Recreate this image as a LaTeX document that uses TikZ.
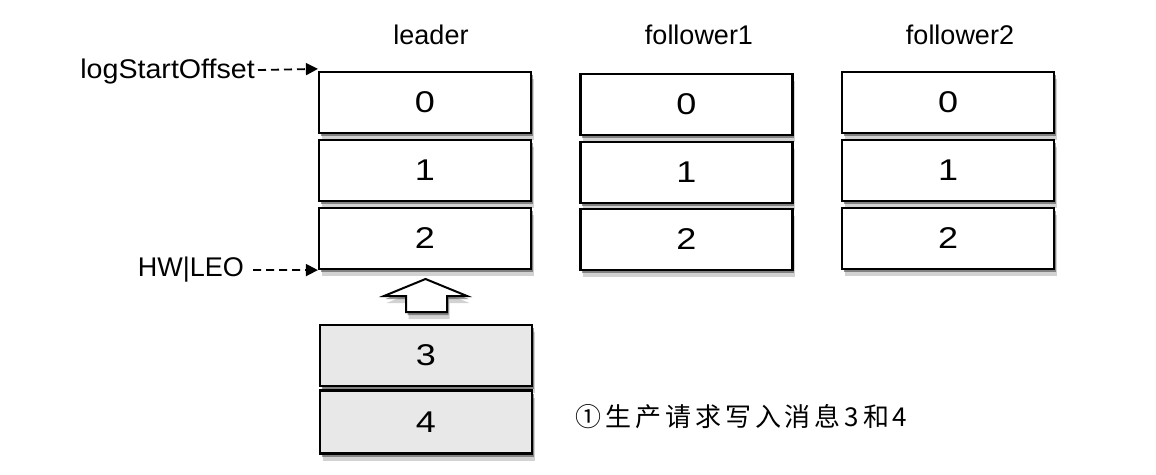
\documentclass[tikz,border=0pt]{standalone}
\usepackage{fontspec}
\setmainfont{Liberation Sans}
\newfontfamily\cjk[LetterSpace=15]{Noto Sans CJK SC}
\usetikzlibrary{shadows,arrows.meta}
\newcommand\wdig[1]{\scalebox{1.2}[1]{#1}}
\tikzset{
  shA/.style={drop shadow={shadow xshift=1.5pt, shadow yshift=-3pt, opacity=.55, fill=black!75}},
  shB/.style={drop shadow={shadow xshift=2.5pt, shadow yshift=-7pt, opacity=.25, fill=black!70}},
  cell/.style={draw, line width=2.2pt, minimum width=212pt, minimum height=61pt, inner sep=0pt,
    fill=white, font=\fontsize{30}{32}\selectfont, shB, shA},
  newcell/.style={cell, fill=black!9},
  lbl/.style={font=\fontsize{27}{30}\selectfont, inner sep=0pt},
  ptr/.style={line width=1.8pt, dash pattern=on 8pt off 5pt, -{Triangle[length=12pt,width=12pt]}},
  upar/.style={draw, line width=2pt, fill=white, line join=miter, shB, shA},
}
\begin{document}
\begin{tikzpicture}[x=1pt,y=-1pt]
\useasboundingbox (0,0) rectangle (1156,474);
% column labels
\node[lbl] (tl) at (431,35) {leader};
\node[lbl] (tf1) at (699,35) {follower1};
\node[lbl] (tf2) at (960,35) {follower2};
% leader
\node[cell] (L0) at (425,102.5) {\wdig{0}};
\node[cell] (L1) at (425,170.5) {\wdig{1}};
\node[cell] (L2) at (425,238.5) {\wdig{2}};
% follower1
\node[cell] (A0) at (686.5,104.5) {\wdig{0}};
\node[cell] (A1) at (686.5,172.5) {\wdig{1}};
\node[cell] (A2) at (686.5,239.5) {\wdig{2}};
% follower2
\node[cell] (B0) at (948,102.5) {\wdig{0}};
\node[cell] (B1) at (948,170.5) {\wdig{1}};
\node[cell] (B2) at (948,238.5) {\wdig{2}};
% new messages
\node[newcell] (N3) at (426,355.5) {\wdig{3}};
\node[newcell, minimum height=63pt] (N4) at (426,422) {\wdig{4}};
% pointers
\node[lbl, anchor=east] (lso) at (255,72) {\scalebox{1.06}[1]{logStartOffset}};
\node[lbl, anchor=east] (hw) at (244,270) {HW|LEO};
\draw[ptr] ([xshift=3pt,yshift=2pt]lso.east) -- ([yshift=2pt]L0.north west);
\draw[ptr] ([xshift=9pt]hw.east) -- (L2.south west);
% up arrow
\path[upar] (384,296) -- (425.5,279) -- (467,296) -- (447,296) -- (447,312) -- (406,312) -- (406,296) -- cycle;
% note
\node[inner sep=0pt, anchor=west, font={\cjk\fontsize{26}{30}\selectfont}] (note) at (575,417) {①\,生产请求写入消息3和4};
\end{tikzpicture}
\end{document}
